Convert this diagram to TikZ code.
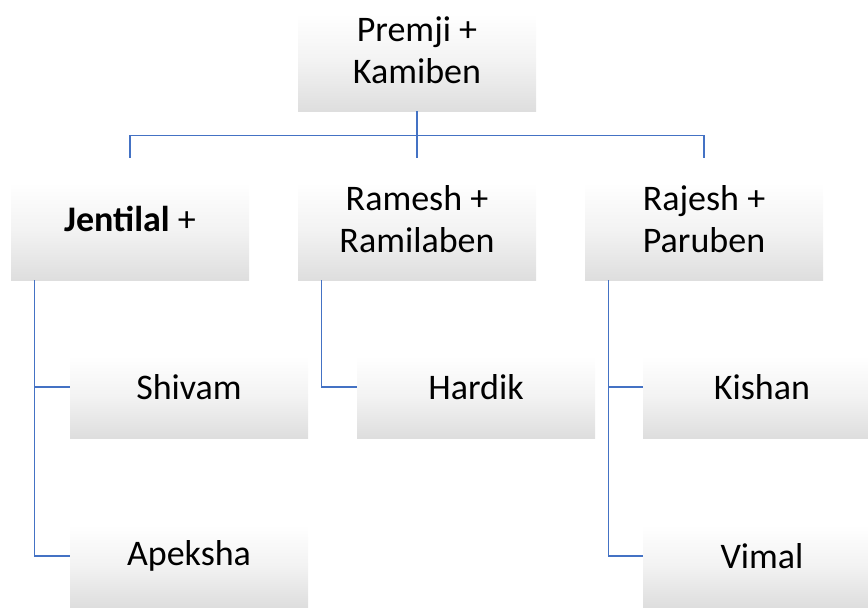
\documentclass[tikz,border=0pt]{standalone}
\usepackage{fontspec}
\setmainfont{Carlito}
\pgfdeclareverticalshading{boxshade}{100bp}{color(0bp)=(black!13); color(25bp)=(black!13); color(45bp)=(black!5); color(65bp)=(white); color(100bp)=(white)}
\begin{document}
\begin{tikzpicture}[x=1pt,y=-1pt,
  box/.style={shading=boxshade,draw=none,inner sep=0pt,
    minimum width=238pt,align=center,font=\fontsize{36}{42}\selectfont},
  big/.style={box,minimum height=122pt},
  small/.style={box,minimum height=102pt},
  conn/.style={draw={rgb,255:red,68;green,114;blue,196},line width=1.2pt}]
\useasboundingbox (0,0) rectangle (868,608);
\clip (0,0) rectangle (868,608);
\node[big] (premji) at (417,50) {Premji +\\Kamiben};
\node[big] (jent) at (130,219) {\textbf{Jentilal} +};
\node[big] (ramesh) at (417,219) {Ramesh +\\Ramilaben};
\node[big] (rajesh) at (704,219) {Rajesh +\\Paruben};
\node[small] (shivam) at (189,387) {Shivam};
\node[small] (apeksha) at (189,556) {Apeksha};
\node[small] (hardik) at (476,387) {Hardik};
\node[small] (kishan) at (762,387) {Kishan};
\node[small] (vimal) at (762,556) {Vimal};
\coordinate (hub) at ([yshift=-24pt]premji.south);
\draw[conn] (premji.south) -- (ramesh.north);
\draw[conn] (hub) -| (jent.north);
\draw[conn] (hub) -| (rajesh.north);
\draw[conn] ([xshift=24pt]jent.south west) |- (shivam.west);
\draw[conn] ([xshift=24pt]jent.south west) |- (apeksha.west);
\draw[conn] ([xshift=24pt]ramesh.south west) |- (hardik.west);
\draw[conn] ([xshift=24pt]rajesh.south west) |- (kishan.west);
\draw[conn] ([xshift=24pt]rajesh.south west) |- (vimal.west);
\end{tikzpicture}
\end{document}
